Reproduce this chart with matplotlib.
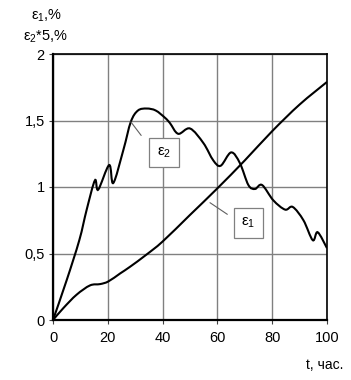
import numpy as np
import matplotlib
matplotlib.use("Agg")
import matplotlib.pyplot as plt
from matplotlib.path import Path
from matplotlib.patches import PathPatch

plt.rcParams['font.family'] = ['Liberation Sans', 'DejaVu Sans']
plt.rcParams['mathtext.fontset'] = 'custom'
plt.rcParams['mathtext.rm'] = 'Liberation Sans'
plt.rcParams['mathtext.it'] = 'Liberation Sans:italic'

# ---- data ----
eps1_t = [0, 3.8, 8.6, 13.5, 17.2, 20.2, 24.5, 28.1, 34, 40, 50, 60, 70, 80, 90, 100]
eps1_v = [0, 0.09, 0.19, 0.26, 0.27, 0.29, 0.35, 0.40, 0.49, 0.59, 0.79, 0.99, 1.20, 1.42, 1.62, 1.79]

eps2_t = [0, 5, 9.6, 12.3, 15.3, 16.5, 20.5, 22, 25.7, 28.4, 31, 34.2, 37.5, 40.9, 42.7, 45.7,
          50, 54.9, 58.5, 61.2, 65, 68.2, 71.3, 73.7, 76.3, 80.4, 84.7, 87.5, 91.4, 94.8, 96.6, 100]
eps2_v = [0, 0.30, 0.60, 0.83, 1.05, 0.98, 1.165, 1.03, 1.28, 1.49, 1.575, 1.59, 1.575, 1.52, 1.48, 1.40,
          1.44, 1.33, 1.20, 1.16, 1.26, 1.18, 1.015, 0.985, 1.015, 0.90, 0.83, 0.85, 0.75, 0.60, 0.66, 0.54]

x_ticks = [0, 20, 40, 60, 80, 100]
y_ticks = [0, 0.5, 1, 1.5, 2]
y_tick_labels = ['0', '0,5', '1', '1,5', '2']

label1 = r'$\mathregular{ε_1}$'
label2 = r'$\mathregular{ε_2}$'
label1_pos = (71.3, 0.73)
label1_target = (57.3, 0.882)
label2_pos = (40.5, 1.26)
label2_target = (28.4, 1.49)


def smooth_path(xs, ys):
    pts = np.column_stack([xs, ys]).astype(float)
    n = len(pts)
    verts = [pts[0]]
    codes = [Path.MOVETO]
    for i in range(n - 1):
        p0 = pts[i - 1] if i > 0 else pts[i]
        p1 = pts[i]
        p2 = pts[i + 1]
        p3 = pts[i + 2] if i + 2 < n else pts[i + 1]
        c1 = p1 + (p2 - p0) / 6.0
        c2 = p2 - (p3 - p1) / 6.0
        verts += [c1, c2, p2]
        codes += [Path.CURVE4] * 3
    return Path(verts, codes)


W, H = 351, 380
fig = plt.figure(figsize=(W / 100, H / 100), dpi=100)
ax = fig.add_axes([53 / W, 1 - 320 / H, (327 - 53) / W, (320 - 54) / H])

ax.set_xlim(0, 100)
ax.set_ylim(0, 2)
ax.set_xticks(x_ticks)
ax.set_yticks(y_ticks)
ax.set_yticklabels(y_tick_labels)
ax.grid(True, color='#808080', lw=1.0)
ax.set_axisbelow(True)
ax.tick_params(direction='out', length=3, width=0.8, color='#404040',
               labelsize=10.5, pad=3)
ax.tick_params(axis='x', pad=5)

for s in ['left', 'bottom']:
    ax.spines[s].set_linewidth(1.6)
for s in ['top', 'right']:
    ax.spines[s].set_linewidth(1.2)

for xs, ys in [(eps1_t, eps1_v), (eps2_t, eps2_v)]:
    ax.add_patch(PathPatch(smooth_path(xs, ys), facecolor='none',
                           edgecolor='black', lw=1.5, zorder=3))

box = dict(boxstyle='square,pad=0.5', fc='white', ec='#808080', lw=0.9)
ax.annotate(label2, xy=label2_target, xytext=label2_pos, fontsize=11,
            ha='center', va='center', bbox=box, zorder=5,
            arrowprops=dict(arrowstyle='-', color='#606060', lw=0.8,
                            shrinkA=9, shrinkB=0, relpos=(0, 0.25)))
ax.annotate(label1, xy=label1_target, xytext=label1_pos, fontsize=11,
            ha='center', va='center', bbox=box, zorder=5,
            arrowprops=dict(arrowstyle='-', color='#606060', lw=0.8,
                            shrinkA=5, shrinkB=0, relpos=(0, 0.45)))

fig.text(46.5 / W, 1 - 16 / H, r'$\mathregular{ε_1}$,%', fontsize=10.5,
         ha='center', va='center')
fig.text(45.5 / W, 1 - 37 / H, r'$\mathregular{ε_2}$*5,%', fontsize=10.5,
         ha='center', va='center')
fig.text(343 / W, 1 - 365 / H, 't, час.', fontsize=10, ha='right', va='center')

fig.savefig('out.png', dpi=100)
